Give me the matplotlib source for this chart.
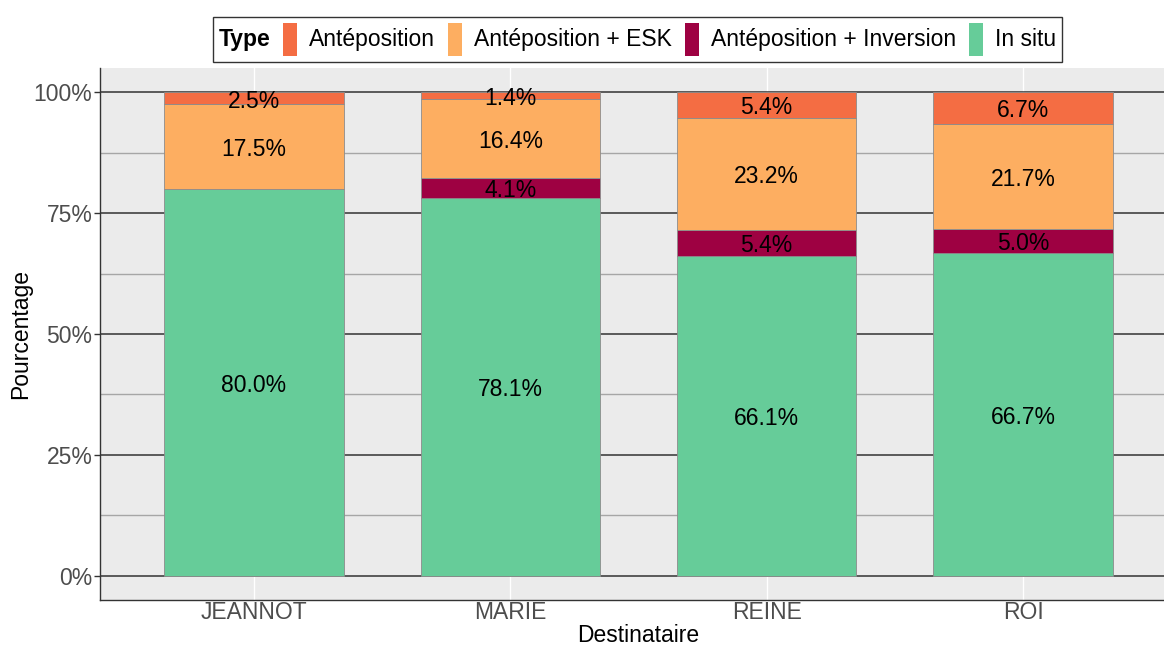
import numpy as np
import matplotlib
matplotlib.use("Agg")
import matplotlib.pyplot as plt
from matplotlib.ticker import PercentFormatter, MultipleLocator
from matplotlib.offsetbox import AnchoredOffsetbox, HPacker, TextArea, DrawingArea
from matplotlib.patches import Rectangle

plt.rcParams["font.family"] = ["Liberation Sans", "DejaVu Sans"]

destinataires = ["JEANNOT", "MARIE", "REINE", "ROI"]
# stacked bottom -> top
types = ["In situ", "Antéposition + Inversion", "Antéposition + ESK", "Antéposition"]
in_situ = [80.0, 78.1, 66.1, 66.7]
ante_inversion = [0.0, 4.1, 5.4, 5.0]
ante_esk = [17.5, 16.4, 23.2, 21.7]
ante = [2.5, 1.4, 5.4, 6.7]
colors = {"Antéposition": "#F46D43", "Antéposition + ESK": "#FDAE61",
          "Antéposition + Inversion": "#9E0142", "In situ": "#66CC99"}
legend_order = ["Antéposition", "Antéposition + ESK", "Antéposition + Inversion", "In situ"]

series = dict(zip(types, [in_situ, ante_inversion, ante_esk, ante]))

FS = 16.5
fig = plt.figure(figsize=(11.64, 6.46), dpi=100)
ax = fig.add_axes([100 / 1164, 46 / 646, 1077 / 1164, 532 / 646])
ax.set_facecolor("#EBEBEB")

x = np.arange(len(destinataires))
bottom = np.zeros(len(x))
for t in types:
    vals = np.array(series[t])
    bars = ax.bar(x, vals, bottom=bottom, width=0.7, color=colors[t],
                  edgecolor="#8C8C8C", linewidth=0.6, zorder=3)
    anns = ax.bar_label(bars, labels=[f"{v:.1f}%" if v > 0 else "" for v in vals],
                        label_type="center", fontsize=FS, color="black", zorder=4)
    for a in anns:
        a.xyann = (0, -2)
    bottom += vals

ax.set_xlim(-0.6, 3.6)
ax.set_xticks(x)
ax.set_xticklabels(destinataires)
ax.yaxis.set_major_locator(MultipleLocator(25))
ax.yaxis.set_minor_locator(MultipleLocator(12.5))
ax.yaxis.set_major_formatter(PercentFormatter(decimals=0))
ax.set_ylim(-5, 105)

# grid: dark major y, grey minor y, white x
ax.grid(axis="y", which="major", color="#333333", linewidth=1.1, zorder=1)
ax.grid(axis="y", which="minor", color="#A6A6A6", linewidth=1.0, zorder=1)
ax.grid(axis="x", which="major", color="white", linewidth=1.0, zorder=1)
ax.set_axisbelow(True)

for s in ("top", "right"):
    ax.spines[s].set_visible(False)
for s in ("left", "bottom"):
    ax.spines[s].set_color("#333333")
    ax.spines[s].set_linewidth(1.0)

ax.tick_params(axis="both", which="major", labelsize=FS, labelcolor="#4D4D4D",
               color="#333333", length=4, width=1.0, pad=1.5)
ax.tick_params(axis="y", which="minor", length=0)
ax.tick_params(axis="x", length=0, pad=1)

ax.set_xlabel("Destinataire", fontsize=FS, labelpad=0)
ax.set_ylabel("Pourcentage", fontsize=FS, labelpad=1)

# legend on top: bold title on the left, then narrow keys
items = [TextArea("Type", textprops=dict(fontsize=FS, fontweight="bold"))]
for t in legend_order:
    da = DrawingArea(10, 24, 0, 0)
    da.add_artist(Rectangle((0, 0), 10, 24, facecolor=colors[t], edgecolor="none"))
    items.append(da)
    items.append(TextArea(t, textprops=dict(fontsize=FS)))
pack = HPacker(children=items, align="center", pad=0, sep=9)
box = AnchoredOffsetbox(loc="center", child=pack, pad=0.35, borderpad=0, frameon=True,
                        bbox_to_anchor=(637.5 / 1164, 1 - 39.5 / 646),
                        bbox_transform=fig.transFigure, prop=dict(size=12))
box.patch.set_edgecolor("#333333")
box.patch.set_linewidth(1.0)
box.patch.set_boxstyle("square", pad=0)
fig.add_artist(box)

fig.savefig("out.png", dpi=100)
